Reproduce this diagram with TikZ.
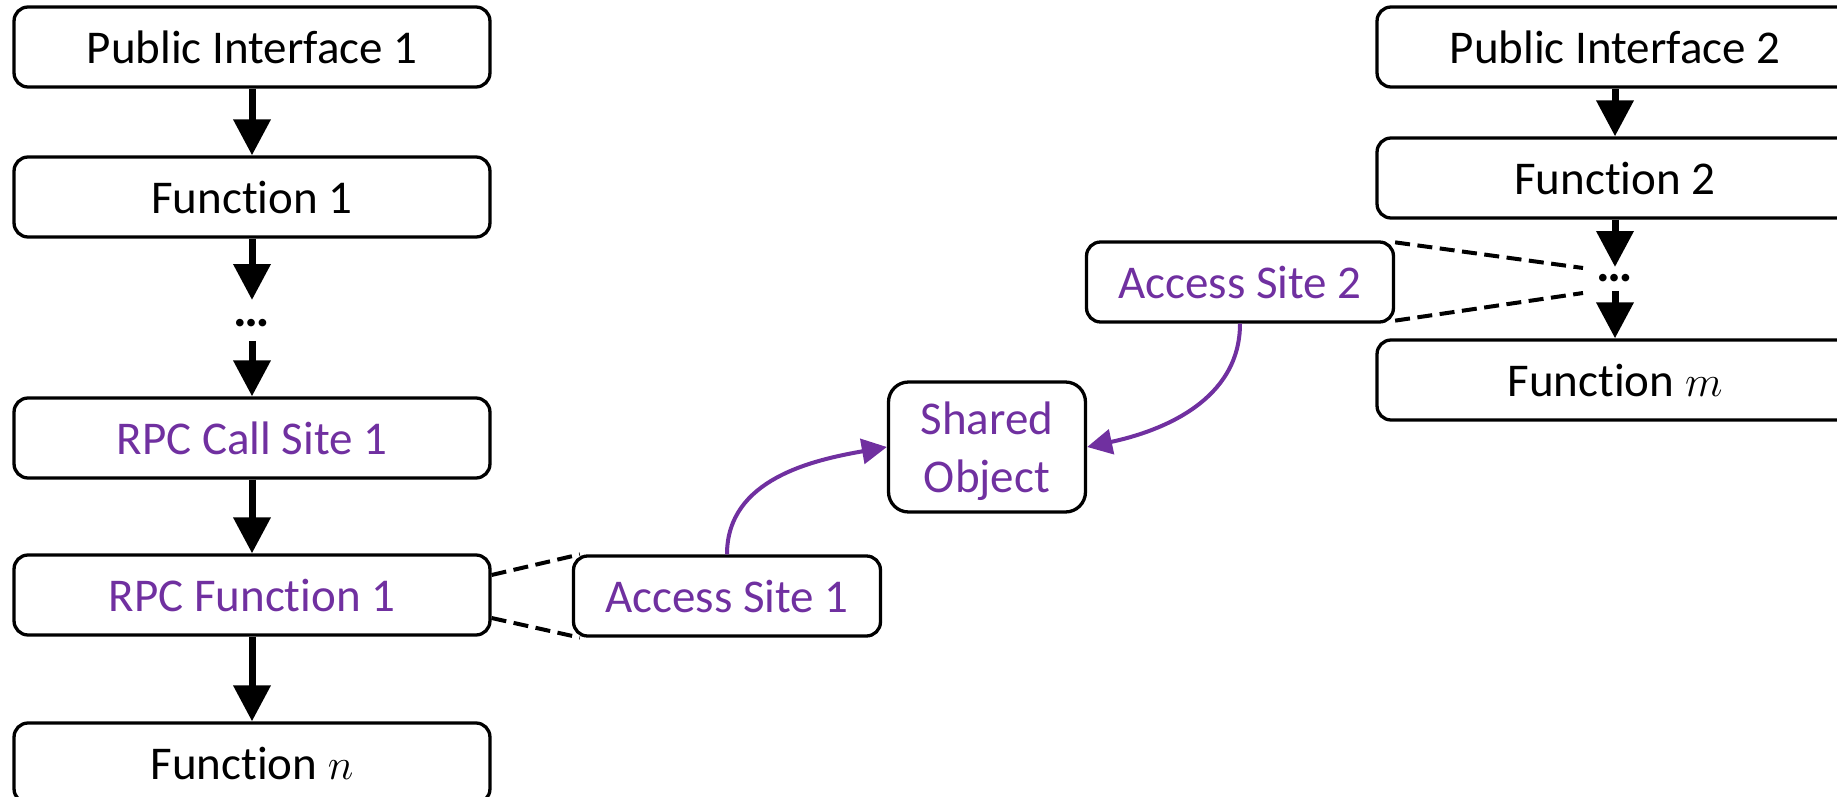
\documentclass[tikz,border=0pt]{standalone}
\usepackage{fontspec}
\setmainfont{Carlito}[Ligatures=NoCommon]
\usetikzlibrary{arrows.meta}
\definecolor{accent}{HTML}{7030A0}

\begin{document}
\begin{tikzpicture}[x=0.02cm, y=-0.02cm,
  label font/.style={font=\fontsize{26.75}{33}\selectfont},
  box/.style={draw, line width=0.066cm, rounded corners=0.28cm,
    minimum width=9.52cm, minimum height=1.6cm, inner sep=0pt,
    label font, text height=0.66cm, text depth=0cm},
  site/.style={box, text=accent, minimum width=6.14cm},
  gap/.style={inner sep=0pt, font=\fontsize{29}{32}\selectfont\bfseries},
  flow/.style={line width=0.14cm, -{Triangle[width=0.72cm,length=0.72cm]}},
  access/.style={accent, line width=0.08cm, -{Triangle[width=0.5cm,length=0.5cm]}},
  span/.style={line width=0.08cm, dash pattern=on 0.3cm off 0.15cm},
]
\useasboundingbox (0,0) rectangle (1837,797);
\clip (0,0) rectangle (1837,797);

% left call chain
\node[box] (pi1) at (252,47)  {Public Interface 1};
\node[box] (f1)  at (252,197) {Function 1};
\node[gap] (d1)  at (252,323) {…};
\node[box, text=accent] (rcs) at (252,438) {RPC Call Site 1};
\node[box, text=accent] (rf1) at (252,595) {RPC Function 1};
\node[box] (fn)  at (252,763) {Function $n$};

% right call chain
\node[box] (pi2) at (1615,47)  {Public Interface 2};
\node[box] (f2)  at (1615,178) {Function 2};
\node[gap] (d2)  at (1615,278) {…};
\node[box] (fm)  at (1615,380) {Function $m$};

% access sites and the shared object
\node[site] (as1) at (727,596)  {Access Site 1};
\node[site] (as2) at (1240,282) {Access Site 2};
\node[draw, line width=0.066cm, rounded corners=0.4cm, minimum width=3.94cm,
  minimum height=2.6cm, inner sep=0pt, label font, text=accent, align=center,
  text depth=0cm]
  (so) at (987,447) {Shared\\Object};

% call arrows
\draw[flow] (pi1) -- (f1);
\draw[flow] (f1) -- ([shift={(0,-23)}]d1.center);
\draw[flow] ([shift={(0,18)}]d1.center) -- (rcs);
\draw[flow] (rcs) -- (rf1);
\draw[flow] (rf1) -- (fn);

\draw[flow] (pi2) -- (f2);
\draw[flow] (f2) -- ([shift={(0,-11)}]d2.center);
\draw[flow] ([shift={(0,13)}]d2.center) -- (fm);

% where each access site lives
\draw[span] ([shift={(0,-20)}]rf1.east) -- ([shift={(8,0)}]as1.north west);
\draw[span] ([shift={(0,23)}]rf1.east) -- ([shift={(8,0)}]as1.south west);
\draw[span] ([shift={(0,2)}]as2.north east) -- ([shift={(-32,-10)}]d2.center);
\draw[span] ([shift={(0,-3)}]as2.south east) -- ([shift={(-32,15)}]d2.center);

% accesses to the shared object
\draw[access] (as1.north) to[out=90, in=190] (so.west);
\draw[access] (as2.south) to[out=-90, in=12] (so.east);
\end{tikzpicture}
\end{document}
